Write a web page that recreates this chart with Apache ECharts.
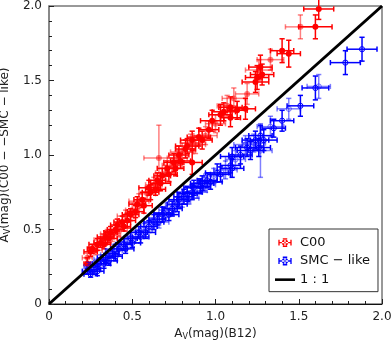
<!DOCTYPE html>
<html>
<head>
<meta charset="utf-8">
<script src="https://cdn.jsdelivr.net/npm/echarts@6/dist/echarts.min.js"></script>
<style>
  html, body { margin: 0; padding: 0; background: #fff; }
  #chart { width: 392px; height: 346px; }
</style>
</head>
<body>
<div id="chart"></div>
<script>
// C00 points: x, y, x error, y error
const redPts = [
  [0.23, 0.27, 0.02, 0.04], [0.23, 0.31, 0.03, 0.03], [0.25, 0.35, 0.04, 0.03], [0.26, 0.37, 0.03, 0.03],
  [0.28, 0.36, 0.04, 0.03], [0.29, 0.40, 0.05, 0.04], [0.31, 0.41, 0.04, 0.03], [0.32, 0.43, 0.05, 0.04],
  [0.33, 0.40, 0.04, 0.03], [0.34, 0.45, 0.05, 0.04], [0.35, 0.47, 0.04, 0.03], [0.36, 0.44, 0.05, 0.03],
  [0.37, 0.48, 0.04, 0.04], [0.38, 0.46, 0.05, 0.04], [0.40, 0.50, 0.05, 0.03], [0.41, 0.53, 0.04, 0.04],
  [0.42, 0.49, 0.05, 0.04], [0.44, 0.55, 0.05, 0.04], [0.45, 0.52, 0.04, 0.03], [0.46, 0.59, 0.05, 0.04],
  [0.47, 0.56, 0.05, 0.05], [0.49, 0.60, 0.05, 0.04], [0.50, 0.63, 0.04, 0.05], [0.52, 0.62, 0.05, 0.04],
  [0.53, 0.67, 0.05, 0.05], [0.54, 0.69, 0.06, 0.05], [0.56, 0.70, 0.05, 0.05], [0.57, 0.66, 0.05, 0.05],
  [0.59, 0.74, 0.05, 0.05], [0.60, 0.78, 0.06, 0.05], [0.61, 0.75, 0.05, 0.05], [0.63, 0.80, 0.05, 0.05],
  [0.64, 0.77, 0.06, 0.04], [0.65, 0.83, 0.05, 0.05], [0.66, 0.98, 0.09, 0.22], [0.67, 0.81, 0.06, 0.05],
  [0.68, 0.86, 0.05, 0.05], [0.70, 0.88, 0.06, 0.05], [0.71, 0.91, 0.06, 0.05], [0.72, 0.87, 0.05, 0.05],
  [0.74, 0.93, 0.06, 0.05], [0.75, 0.95, 0.06, 0.06], [0.76, 0.91, 0.05, 0.05], [0.77, 0.98, 0.06, 0.05],
  [0.78, 1.00, 0.06, 0.06], [0.79, 0.96, 0.06, 0.05], [0.80, 1.02, 0.07, 0.06], [0.82, 1.04, 0.06, 0.06],
  [0.83, 1.06, 0.07, 0.05], [0.85, 1.08, 0.06, 0.06], [0.86, 0.95, 0.06, 0.08], [0.86, 1.10, 0.07, 0.06],
  [0.88, 1.07, 0.06, 0.06], [0.90, 1.12, 0.07, 0.06], [0.92, 1.10, 0.06, 0.06], [0.94, 1.13, 0.07, 0.06],
  [0.96, 1.17, 0.06, 0.06], [0.98, 1.23, 0.07, 0.07], [1.00, 1.21, 0.06, 0.06], [1.03, 1.27, 0.07, 0.07],
  [1.05, 1.29, 0.07, 0.06], [1.07, 1.33, 0.06, 0.07], [1.09, 1.32, 0.07, 0.07], [1.09, 1.25, 0.06, 0.06],
  [1.11, 1.38, 0.07, 0.07], [1.13, 1.30, 0.06, 0.06], [1.18, 1.31, 0.06, 0.07], [1.19, 1.41, 0.07, 0.07],
  [1.24, 1.49, 0.08, 0.07], [1.25, 1.52, 0.07, 0.08], [1.26, 1.57, 0.08, 0.07], [1.27, 1.59, 0.07, 0.08],
  [1.28, 1.54, 0.07, 0.07], [1.33, 1.64, 0.08, 0.07], [1.40, 1.70, 0.07, 0.08], [1.44, 1.68, 0.07, 0.09],
  [1.51, 1.86, 0.09, 0.08], [1.60, 1.86, 0.10, 0.08], [1.62, 1.98, 0.09, 0.07]
];

// SMC-like points: x, y, x error, y error
const bluePts = [
  [0.23, 0.22, 0.03, 0.02], [0.24, 0.25, 0.03, 0.03], [0.25, 0.20, 0.04, 0.02], [0.27, 0.23, 0.04, 0.03],
  [0.28, 0.26, 0.03, 0.03], [0.29, 0.22, 0.04, 0.03], [0.30, 0.27, 0.04, 0.03], [0.31, 0.30, 0.04, 0.03],
  [0.33, 0.27, 0.04, 0.03], [0.34, 0.31, 0.05, 0.03], [0.35, 0.33, 0.04, 0.04], [0.36, 0.29, 0.05, 0.03],
  [0.38, 0.34, 0.04, 0.03], [0.39, 0.36, 0.05, 0.04], [0.40, 0.32, 0.04, 0.03], [0.42, 0.37, 0.05, 0.04],
  [0.43, 0.39, 0.04, 0.03], [0.45, 0.40, 0.05, 0.04], [0.46, 0.37, 0.05, 0.03], [0.47, 0.42, 0.05, 0.04],
  [0.49, 0.44, 0.04, 0.04], [0.50, 0.41, 0.05, 0.03], [0.52, 0.45, 0.05, 0.04], [0.54, 0.48, 0.05, 0.04],
  [0.55, 0.45, 0.05, 0.04], [0.57, 0.50, 0.05, 0.04], [0.58, 0.48, 0.06, 0.04], [0.60, 0.52, 0.05, 0.04],
  [0.62, 0.54, 0.05, 0.04], [0.63, 0.55, 0.06, 0.05], [0.65, 0.57, 0.05, 0.04], [0.66, 0.55, 0.06, 0.04],
  [0.68, 0.60, 0.05, 0.05], [0.69, 0.61, 0.06, 0.04], [0.71, 0.63, 0.05, 0.05], [0.72, 0.60, 0.06, 0.04],
  [0.74, 0.64, 0.06, 0.05], [0.75, 0.66, 0.05, 0.04], [0.77, 0.67, 0.06, 0.05], [0.78, 0.70, 0.06, 0.05],
  [0.80, 0.69, 0.05, 0.04], [0.81, 0.72, 0.06, 0.05], [0.83, 0.74, 0.06, 0.05], [0.84, 0.71, 0.06, 0.04],
  [0.86, 0.75, 0.06, 0.05], [0.87, 0.78, 0.06, 0.05], [0.89, 0.76, 0.06, 0.05], [0.91, 0.79, 0.06, 0.05],
  [0.92, 0.81, 0.07, 0.05], [0.94, 0.80, 0.06, 0.05], [0.95, 0.83, 0.06, 0.05], [0.97, 0.82, 0.07, 0.05],
  [0.99, 0.86, 0.06, 0.05], [1.01, 0.88, 0.07, 0.06], [1.03, 0.87, 0.06, 0.05], [1.06, 0.90, 0.07, 0.06],
  [1.09, 0.93, 0.06, 0.05], [1.10, 0.91, 0.07, 0.06], [1.12, 0.97, 0.06, 0.06], [1.10, 0.99, 0.07, 0.06],
  [1.15, 1.00, 0.07, 0.06], [1.18, 1.07, 0.07, 0.06], [1.19, 1.05, 0.07, 0.06], [1.21, 1.03, 0.08, 0.06],
  [1.23, 1.08, 0.07, 0.06], [1.24, 1.10, 0.08, 0.06], [1.26, 1.05, 0.07, 0.06], [1.27, 1.03, 0.07, 0.18],
  [1.29, 1.10, 0.08, 0.07], [1.27, 1.13, 0.07, 0.07], [1.33, 1.19, 0.08, 0.07], [1.35, 1.18, 0.07, 0.06],
  [1.40, 1.23, 0.07, 0.07], [1.44, 1.31, 0.07, 0.07], [1.51, 1.33, 0.08, 0.07], [1.60, 1.45, 0.08, 0.08],
  [1.62, 1.46, 0.07, 0.08], [1.78, 1.62, 0.09, 0.08], [1.88, 1.71, 0.09, 0.08]
];

const oneToOne = [[0, 0], [2, 2]];
const seriesNames = ['C00', 'SMC \u2212 like', '1 : 1'];

const FONT = 'DejaVu Sans';

// error bar + marker drawn per point
function errorBars(color, filled) {
  return function (params, api) {
    const x = api.value(0), y = api.value(1), ex = api.value(2), ey = api.value(3);
    const c = api.coord([x, y]);
    const l = api.coord([x - ex, y]), r = api.coord([x + ex, y]);
    const t = api.coord([x, y + ey]), b = api.coord([x, y - ey]);
    const cap = 2.6;
    const op = params.dataIndex % 3 === 1 ? 0.5 : 1;
    const st = { stroke: color, lineWidth: 1.5, opacity: op };
    const ln = (x1, y1, x2, y2) => ({ type: 'line', shape: { x1, y1, x2, y2 }, style: st });
    return {
      type: 'group',
      children: [
        ln(l[0], l[1], r[0], r[1]),
        ln(l[0], l[1] - cap, l[0], l[1] + cap),
        ln(r[0], r[1] - cap, r[0], r[1] + cap),
        ln(t[0], t[1], b[0], b[1]),
        ln(t[0] - cap, t[1], t[0] + cap, t[1]),
        ln(b[0] - cap, b[1], b[0] + cap, b[1]),
        filled
          ? { type: 'circle', shape: { cx: c[0], cy: c[1], r: 3 }, style: { fill: color, opacity: op } }
          : { type: 'circle', shape: { cx: c[0], cy: c[1], r: 2.6 }, style: { fill: 'none', stroke: color, lineWidth: 1, opacity: op } }
      ]
    };
  };
}

const errIcon = 'path://M0,0M18,12M3,5.4h12v1.2h-12zM3,3.4h1.2v5.2h-1.2zM13.8,3.4h1.2v5.2h-1.2zM8.4,2h1.2v8h-1.2zM7,2h4v1.2h-4zM7,8.8h4v1.2h-4zM6.2,6a2.8,2.8 0 1,0 5.6,0a2.8,2.8 0 1,0 -5.6,0z';
const lineIcon = 'path://M0,0M20,14M0,5.7h20v2.6h-20z';

const chart = echarts.init(document.getElementById('chart'));

const axisCommon = {
  type: 'value',
  min: 0,
  max: 2,
  interval: 0.5,
  nameLocation: 'middle',
  splitLine: { show: false },
  axisTick: { show: true, inside: true, length: 5, lineStyle: { color: '#222' } },
  minorTick: { show: true, splitNumber: 5, length: 3, lineStyle: { color: '#222' } },
  axisLabel: {
    fontFamily: FONT, fontSize: 12, color: '#222', margin: 7,
    formatter: v => (v === 0 ? '0' : v.toFixed(1))
  },
  nameTextStyle: {
    fontFamily: FONT, fontSize: 12, color: '#222',
    rich: { s: { fontFamily: FONT, fontSize: 8, color: '#222', padding: [7, 0, 0, 0] } }
  }
};

chart.setOption({
  animation: false,
  backgroundColor: '#fff',
  grid: {
    left: 49, right: 10, top: 6, bottom: 42,
    containLabel: false, outerBoundsMode: 'none',
    show: true, borderColor: '#333', borderWidth: 1
  },
  xAxis: Object.assign({}, axisCommon, {
    name: 'A{s|V}(mag)(B12)',
    nameGap: 21,
    axisLine: { lineStyle: { color: '#111', width: 1 } }
  }),
  yAxis: Object.assign({}, axisCommon, {
    name: 'A{s|V}(mag)(C00 \u2212 \u2212SMC \u2212 like)',
    nameGap: 32,
    axisLine: { lineStyle: { color: '#888', width: 2 } }
  }),
  legend: {
    orient: 'vertical',
    left: 269,
    top: 229,
    padding: [7, 8, 5, 6],
    itemGap: 5,
    itemWidth: 20,
    itemHeight: 14,
    backgroundColor: '#fff',
    borderColor: '#333',
    borderWidth: 1,
    textStyle: { fontFamily: FONT, fontSize: 13, color: '#111' },
    data: [
      { name: seriesNames[0], icon: errIcon },
      { name: seriesNames[1], icon: errIcon },
      { name: seriesNames[2], icon: lineIcon }
    ]
  },
  series: [
    {
      name: seriesNames[0],
      type: 'custom',
      renderItem: errorBars('#ff0000', true),
      itemStyle: { color: '#ff0000' },
      encode: { x: 0, y: 1 },
      data: redPts,
      z: 2
    },
    {
      name: seriesNames[1],
      type: 'custom',
      renderItem: errorBars('#0000ff', false),
      itemStyle: { color: '#0000ff' },
      encode: { x: 0, y: 1 },
      data: bluePts,
      z: 2
    },
    {
      name: seriesNames[2],
      type: 'line',
      data: oneToOne,
      showSymbol: false,
      symbol: 'none',
      itemStyle: { color: '#000' },
      lineStyle: { color: '#000', width: 3 },
      z: 5
    }
  ]
});
</script>
</body>
</html>
